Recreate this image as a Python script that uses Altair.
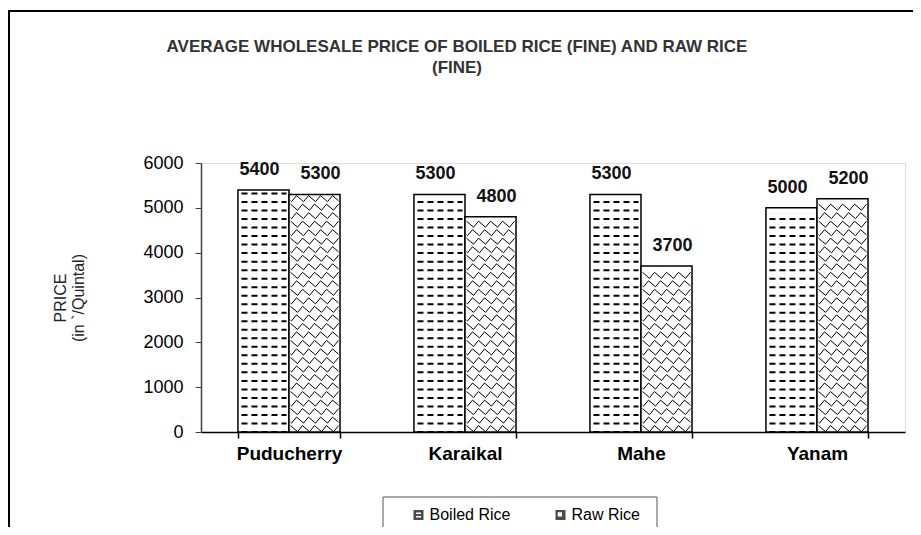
import altair as alt
import pandas as pd

# ---- data ----
regions = ["Puducherry", "Karaikal", "Mahe", "Yanam"]
series = ["Boiled Rice", "Raw Rice"]
boiled = [5400, 5300, 5300, 5000]
raw = [5300, 4800, 3700, 5200]
y_ticks = [0, 1000, 2000, 3000, 4000, 5000, 6000]
title_lines = ["AVERAGE WHOLESALE PRICE OF BOILED RICE (FINE) AND RAW RICE", "(FINE)"]
y_title = ["PRICE", "(in `/Quintal)"]

rows = []
for i, r in enumerate(regions):
    rows.append({"region": r, "series": series[0], "price": boiled[i]})
    rows.append({"region": r, "series": series[1], "price": raw[i]})
df = pd.DataFrame(rows)
one = pd.DataFrame({"k": [0]})

FONT = "Liberation Sans"
W, H = 704, 269
STEP = 190  # spacing of hatch rows (in price units)

# hatch row shapes (pixel coordinates, size=4 -> scale 1)
DASH = "M-22,0H-16M-12,0H-6M-2,0H4M8,0H14M18,0H23"
SCALE_A = "M-24,-3L-17,3L-12,-3M-12,-3L-5,3L0,-3M0,-3L7,3L12,-3M12,-3L19,3L24,-3"
SCALE_B = "M-24,2.1L-23,3L-18,-3M-18,-3L-11,3L-6,-3M-6,-3L1,3L6,-3M6,-3L13,3L18,-3M18,-3L24,2.1"
# legend symbols
LEG_BOILED = ("M-1,-1L1,-1L1,1L-1,1Z"
              "M-0.5,-0.5L-0.5,-0.18L0.5,-0.18L0.5,-0.5Z"
              "M-0.5,0.18L-0.5,0.5L0.5,0.5L0.5,0.18Z")
LEG_RAW = "M-1,-1L1,-1L1,1L-1,1ZM-0.55,-0.55L-0.55,0.3L0.3,0.3L0.3,-0.55Z"

x_enc = alt.X(
    "region:N", sort=regions,
    scale=alt.Scale(paddingInner=0.42, paddingOuter=0.21),
    axis=alt.Axis(
        title=None, labelFont=FONT, labelFontSize=19, labelFontWeight="bold",
        labelColor="black", labelAngle=0, labelPadding=6, tickBand="extent",
        tickSize=6, tickColor="black", domainColor="black", domainWidth=1.5,
        tickWidth=1.5, grid=False,
    ),
)
xo_enc = alt.XOffset("series:N", sort=series, scale=alt.Scale(paddingInner=0, paddingOuter=0))
y_scale = alt.Scale(domain=[0, 6000], nice=False)

# outer frame
frame = alt.Chart(one).mark_rect(fill="transparent", stroke="black", strokeWidth=2).encode(
    x=alt.value(-192), x2=alt.value(800), y=alt.value(-152), y2=alt.value(500)
)

# legend box
legbox = alt.Chart(one).mark_rect(fill="white", stroke="#555555", strokeWidth=1).encode(
    x=alt.value(182), x2=alt.value(456), y=alt.value(334), y2=alt.value(500)
)

# hidden points that carry the legend (drawn under the white bars)
legend_pts = alt.Chart(df).transform_calculate(half="datum.price / 2").mark_point(
    filled=True, color="black", size=20
).encode(
    x=x_enc, xOffset=xo_enc,
    y=alt.Y("half:Q", scale=y_scale),
    shape=alt.Shape(
        "series:N", sort=series,
        scale=alt.Scale(domain=series, range=[LEG_BOILED, LEG_RAW]),
        legend=alt.Legend(
            title=None, orient="none", legendX=209.5, legendY=344,
            direction="horizontal", labelFont=FONT, labelFontSize=16,
            labelColor="black", labelOffset=3, columnPadding=42,
            symbolSize=100, padding=0,
        ),
    ),
)

bars = alt.Chart(df).mark_bar(fill="white", stroke="black", strokeWidth=1.5).encode(
    x=x_enc, xOffset=xo_enc,
    y=alt.Y(
        "price:Q", scale=y_scale,
        axis=alt.Axis(
            values=y_ticks, format="d", title=y_title, titleFont=FONT, titleFontSize=16,
            titleFontWeight="normal", titleColor="#222222", titlePadding=56,
            labelFont=FONT, labelFontSize=18, labelColor="black", labelPadding=12,
            tickSize=6, tickColor="#404040", domainColor="#404040",
            domainWidth=1.5, grid=False,
        ),
    ),
)

def hatch(series_name, start, shape, parity=None, width=2.0):
    c = alt.Chart(df).transform_filter(
        alt.datum.series == series_name
    ).transform_calculate(
        rowv=f"sequence({start}, datum.price - 70, {STEP})"
    ).transform_flatten(["rowv"]).transform_calculate(
        parity=f"floor((datum.rowv - {start}) / {STEP} + 0.5) % 2"
    )
    if parity is not None:
        c = c.transform_filter(alt.datum.parity == parity)
    return c.mark_point(filled=False, color="black", strokeWidth=width, size=4, opacity=1).encode(
        x=x_enc, xOffset=xo_enc,
        y=alt.Y("rowv:Q", scale=y_scale),
        shape=alt.value(shape),
    )

hatch_b = hatch("Boiled Rice", 0, DASH, width=2.0)
hatch_r0 = hatch("Raw Rice", 75, SCALE_A, parity=0, width=1.0)
hatch_r1 = hatch("Raw Rice", 75, SCALE_B, parity=1, width=1.0)

labels = []
for s, dxv in zip(series, [-4, 6]):
    labels.append(
        alt.Chart(df).transform_filter(alt.datum.series == s).mark_text(
            font=FONT, fontSize=18, fontWeight="bold", color="#111111",
            baseline="alphabetic", align="center", dy=-15, dx=dxv,
        ).encode(
            x=x_enc, xOffset=xo_enc,
            y=alt.Y("price:Q", scale=y_scale),
            text=alt.Text("price:Q", format="d"),
        )
    )

chart = alt.layer(
    frame, legbox, legend_pts, bars, hatch_b, hatch_r0, hatch_r1, *labels
).properties(
    width=W, height=H,
    autosize=alt.AutoSizeParams(type="none"),
    padding={"left": 193, "top": 155, "right": 8, "bottom": 95},
    title=alt.TitleParams(
        text=title_lines, font=FONT, fontSize=17, fontWeight="bold",
        color="#333333", anchor="middle", dx=-96, offset=-67, lineHeight=21,
    ),
).configure_view(
    stroke="#808080", strokeWidth=1
).configure(background="white")

chart.save("out.html", embed_options={"renderer": "svg", "actions": False})
